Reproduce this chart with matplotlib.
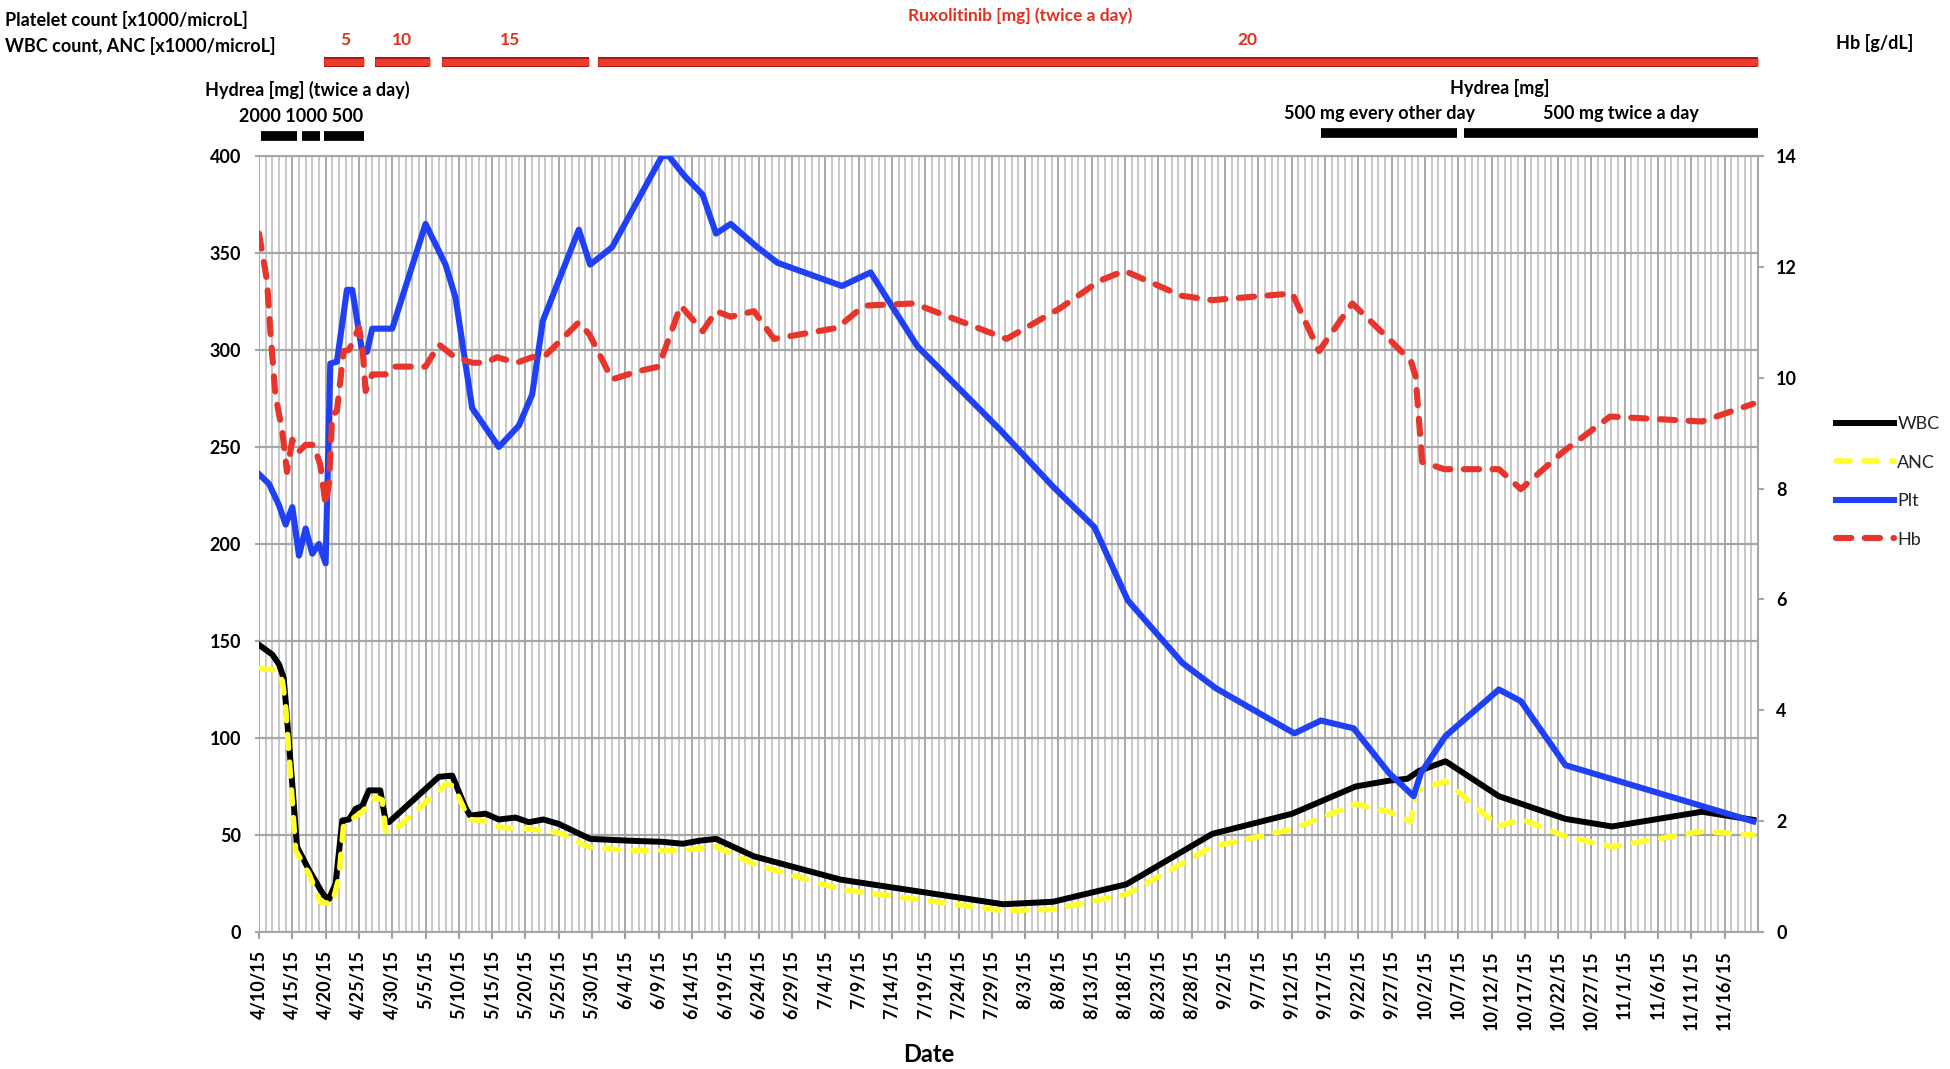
import matplotlib
matplotlib.use("Agg")
import matplotlib.pyplot as plt
from matplotlib.transforms import blended_transform_factory

plt.rcParams['font.family'] = ['Lato', 'DejaVu Sans']

# ---------------- data (x = days since 4/10/15) ----------------
date_labels = ["4/10/15", "4/15/15", "4/20/15", "4/25/15", "4/30/15",
               "5/5/15", "5/10/15", "5/15/15", "5/20/15", "5/25/15", "5/30/15",
               "6/4/15", "6/9/15", "6/14/15", "6/19/15", "6/24/15", "6/29/15",
               "7/4/15", "7/9/15", "7/14/15", "7/19/15", "7/24/15", "7/29/15",
               "8/3/15", "8/8/15", "8/13/15", "8/18/15", "8/23/15", "8/28/15",
               "9/2/15", "9/7/15", "9/12/15", "9/17/15", "9/22/15", "9/27/15",
               "10/2/15", "10/7/15", "10/12/15", "10/17/15", "10/22/15", "10/27/15",
               "11/1/15", "11/6/15", "11/11/15", "11/16/15"]
date_tick_days = [5 * i for i in range(len(date_labels))]

wbc_days = [0, 2, 3, 3.7, 4, 5, 5.7, 7.5, 9.7, 10.5, 11.5, 12.5, 13.5, 14.5, 15.5,
            16.5, 18.2, 19, 19.5, 27, 29, 31, 31.7, 34, 36, 38.5, 40.5, 42.7, 45,
            49.7, 56, 60.5, 63.6, 66, 68.6, 74.3, 87.3, 111.7, 119.2, 130.2, 143.1,
            155.1, 164.6, 169.6, 172.4, 174.1, 178.1, 186.1, 196.1, 203.1, 216.6, 224.3]
wbc = [148, 143, 138, 131, 119, 76, 44, 32, 19, 17, 25, 57.5, 58, 63.5, 65,
       73, 73, 57.5, 56.6, 80, 80.6, 64, 60, 61, 58, 59, 56.6, 58, 55.7,
       48, 47, 46.5, 45.5, 47, 48, 39, 27, 14.3, 15.6, 24.6, 50.6,
       61, 75, 78, 79, 83, 88, 70, 58.3, 54.4, 62, 57.8]

anc_days = [0, 2.5, 3.5, 4, 5.5, 7.5, 9.2, 11, 12, 12.7, 15.5, 17.5, 18.5, 19, 20,
            28, 29.2, 31.5, 33.5, 36, 41, 43.5, 45.5, 49.5, 55.5, 63.5, 68.6, 74.3,
            87.3, 111.7, 119.2, 130.2, 143.1, 155.1, 164.6, 169.6, 172.9, 173.6,
            178.1, 186.1, 189.4, 196.1, 203.1, 216.6, 224.3]
anc = [136, 135, 129.5, 116, 42, 30, 15.4, 14.6, 28, 55, 62, 69.5, 68, 52, 51.5,
       76, 75.5, 58, 57.5, 54, 53, 52, 50.6, 43.7, 42, 42, 44, 35,
       22, 11, 11.7, 19.4, 44, 53, 66, 62, 57, 72.6,
       77.8, 54.4, 58.3, 49.3, 44, 51.9, 50]

plt_days = [0, 1.5, 3, 4, 5, 6, 7, 8, 9, 10, 10.7, 11.7, 13.2, 14, 15.4, 16.2, 17,
            20, 25, 28, 29.5, 32, 36, 39, 41, 42.6, 48, 49.7, 53, 60.5, 61.5, 63.8,
            66.6, 68.6, 70.8, 74.8, 77.8, 87.5, 91.8, 98.8, 111.2, 119.2, 125.4,
            130.4, 138.6, 143.6, 155.4, 159.4, 164.3, 169.6, 173.3, 174.4, 178.1,
            186.1, 189.4, 196.1, 224.3]
plt_count = [236, 231, 220, 210, 219, 194, 208, 195, 200, 190, 293, 294, 331, 331,
             301, 299, 311, 311, 365, 344, 327, 270, 250, 261, 277, 315, 362, 344,
             353, 400, 400, 390, 380, 360, 365, 353, 345, 333, 340, 302, 259, 229.5,
             208.7, 171, 138.7, 125.7, 102.4, 109, 105, 82, 70, 82, 101, 125, 119,
             86, 57]

hb_days = [0, 1.2, 1.7, 2.45, 3.5, 4.2, 5, 6, 7, 8.2, 9.2, 10, 10.5, 11, 11.7, 12.7,
           13.5, 15, 15.5, 16, 17, 19, 20, 25, 27, 29.4, 32, 34, 35.7, 38.7, 41, 43,
           48, 49.6, 53, 57, 60, 63.3, 66.6, 68.6, 70.8, 74.3, 77.3, 86.8, 90.8, 98.3,
           112.2, 120.2, 126.2, 129.9, 138.4, 143.1, 155.1, 159.1, 164.1, 169.6,
           172.9, 173.6, 174.6, 177.9, 186.1, 189.4, 195.8, 202.8, 216.6, 224.3]
hb = [12.6, 11.75, 10.85, 9.7, 9.03, 8.3, 8.88, 8.67, 8.79, 8.79, 8.43, 7.7, 8.1,
      9.33, 9.4, 10.48, 10.5, 10.9, 10.6, 9.76, 10.06, 10.06, 10.2, 10.2, 10.6, 10.37,
      10.27, 10.27, 10.37, 10.27, 10.37, 10.4, 11.0, 10.78, 9.97, 10.12, 10.2, 11.3,
      10.84, 11.2, 11.1, 11.2, 10.7, 10.9, 11.3, 11.34, 10.7, 11.25, 11.75, 11.93,
      11.48, 11.4, 11.52, 10.48, 11.34, 10.7, 10.3, 10.03, 8.48, 8.35, 8.35, 7.99,
      8.67, 9.3, 9.21, 9.53]

# Treatment periods (days since 4/10/15)
rux_doses = ["5", "10", "15", "20"]
rux_start = [9.7, 17.4, 27.4, 50.9]
rux_end = [15.7, 25.7, 49.6, 225]
rux_label_day = [12.9, 21.4, 37.7, 148.3]

hydrea1_doses = ["2000", "1000", "500"]
hydrea1_start = [0.3, 6.4, 9.7]
hydrea1_end = [5.7, 9.1, 15.7]

hydrea2_labels = ["500 mg every other day", "500 mg twice a day"]
hydrea2_start = [159.4, 180.8]
hydrea2_end = [179.8, 225]
hydrea2_label_day = [168.2, 204.5]

# ---------------- figure ----------------
W, H = 1950, 1069
fig = plt.figure(figsize=(W / 100, H / 100), dpi=100)
fig.patch.set_facecolor('white')

def fx(px):
    return px / W

def fy(py):
    return 1 - py / H

ax = fig.add_axes([fx(259), fy(932), fx(1758) - fx(259), fy(156) - fy(932)])
ax.set_xlim(0, 225)
ax.set_ylim(0, 400)
ax.set_yticks(range(0, 401, 50))
ax.set_xticks(date_tick_days)
ax.set_xticks(range(0, 226, 1), minor=True)
ax.set_xticklabels(date_labels, rotation=90, fontsize=13, fontweight='bold')
for t in ax.get_yticklabels():
    t.set_fontsize(13)
    t.set_fontweight('bold')

ax.set_axisbelow(True)
ax.grid(which='minor', axis='x', color='#c4c4c4', lw=1.3)
ax.grid(which='major', axis='x', color='#a9a9a9', lw=1.4)
ax.grid(which='major', axis='y', color='#a6a6a6', lw=1.6)
for s in ax.spines.values():
    s.set_color('#a6a6a6')
    s.set_linewidth(1.5)
ax.spines['left'].set_visible(False)
ax.tick_params(axis='x', which='major', length=5, width=1.5, color='#a0a0a0', pad=8)
ax.tick_params(axis='x', which='minor', length=0)
ax.tick_params(axis='y', length=3, width=1.5, color='#a6a6a6', pad=10)

ax.plot(wbc_days, wbc, color='black', lw=4.3, solid_joinstyle='round', label='WBC', zorder=3)
ax.plot(anc_days, anc, color='#ffff2e', lw=4.0, ls=(0, (2.5, 2.5)),
        dash_capstyle='round', label='ANC', zorder=4)
ax.plot(plt_days, plt_count, color='#1f40f5', lw=4.4, solid_joinstyle='round',
        label='Plt', zorder=5)

ax2 = ax.twinx()
ax2.set_ylim(0, 14)
ax2.set_yticks(range(0, 15, 2))
for t in ax2.get_yticklabels():
    t.set_fontsize(13)
    t.set_fontweight('bold')
ax2.tick_params(axis='y', length=4, width=1.5, color='#a6a6a6', pad=9)
for s in ax2.spines.values():
    s.set_visible(False)
ax2.plot(hb_days, hb, color='#e8352b', lw=4.4, ls=(0, (2.5, 2.2)),
         dash_capstyle='round', label='Hb')

# legend
handles = ax.get_lines() + ax2.get_lines()
fig.legend(handles, ['WBC', 'ANC', 'Plt', 'Hb'], loc='upper left',
           bbox_to_anchor=(fx(1836), fy(416)), frameon=False, fontsize=13,
           handlelength=3.2, handletextpad=0.2, labelspacing=1.25,
           borderaxespad=0, borderpad=0, labelcolor='#222222')

# axis labels and headings
fig.text(fx(929), fy(1055), 'Date', fontsize=17, fontweight='bold',
         ha='center', va='center')
fig.text(fx(5), fy(20), 'Platelet count [x1000/microL]', fontsize=13,
         fontweight='bold', ha='left', va='center')
fig.text(fx(5), fy(46), 'WBC count, ANC [x1000/microL]', fontsize=13,
         fontweight='bold', ha='left', va='center')
fig.text(fx(1875), fy(43), 'Hb [g/dL]', fontsize=13, fontweight='bold',
         ha='center', va='center')
fig.text(fx(1020), fy(16), 'Ruxolitinib [mg] (twice a day)', fontsize=12.5,
         fontweight='bold', color='#e0301f', ha='center', va='center')
fig.text(fx(307), fy(90), 'Hydrea [mg] (twice a day)', fontsize=13,
         fontweight='bold', ha='center', va='center')
fig.text(fx(301), fy(116), ' '.join(hydrea1_doses), fontsize=13,
         fontweight='bold', ha='center', va='center')
fig.text(fx(1500), fy(88), 'Hydrea [mg]', fontsize=13, fontweight='bold',
         ha='center', va='center')

trans = blended_transform_factory(ax.transData, fig.transFigure)
for d, s, e, lx in zip(rux_doses, rux_start, rux_end, rux_label_day):
    ax.plot([s, e], [fy(62), fy(62)], transform=trans, color='#b01810', lw=7.2,
            solid_capstyle='butt', clip_on=False)
    ax.plot([s, e], [fy(62), fy(62)], transform=trans, color='#ec3a2e', lw=5.0,
            solid_capstyle='butt', clip_on=False)
    ax.text(lx, fy(40), d, transform=trans, fontsize=12.5, fontweight='bold',
            color='#e0301f', ha='center', va='center')
for s, e in zip(hydrea1_start, hydrea1_end):
    ax.plot([s, e], [fy(136), fy(136)], transform=trans, color='black', lw=7,
            solid_capstyle='butt', clip_on=False)
for lab, s, e, lx in zip(hydrea2_labels, hydrea2_start, hydrea2_end, hydrea2_label_day):
    ax.plot([s, e], [fy(133), fy(133)], transform=trans, color='black', lw=7,
            solid_capstyle='butt', clip_on=False)
    ax.text(lx, fy(113), lab, transform=trans, fontsize=13, fontweight='bold',
            ha='center', va='center')

fig.savefig('out.png', dpi=100, facecolor='white')
